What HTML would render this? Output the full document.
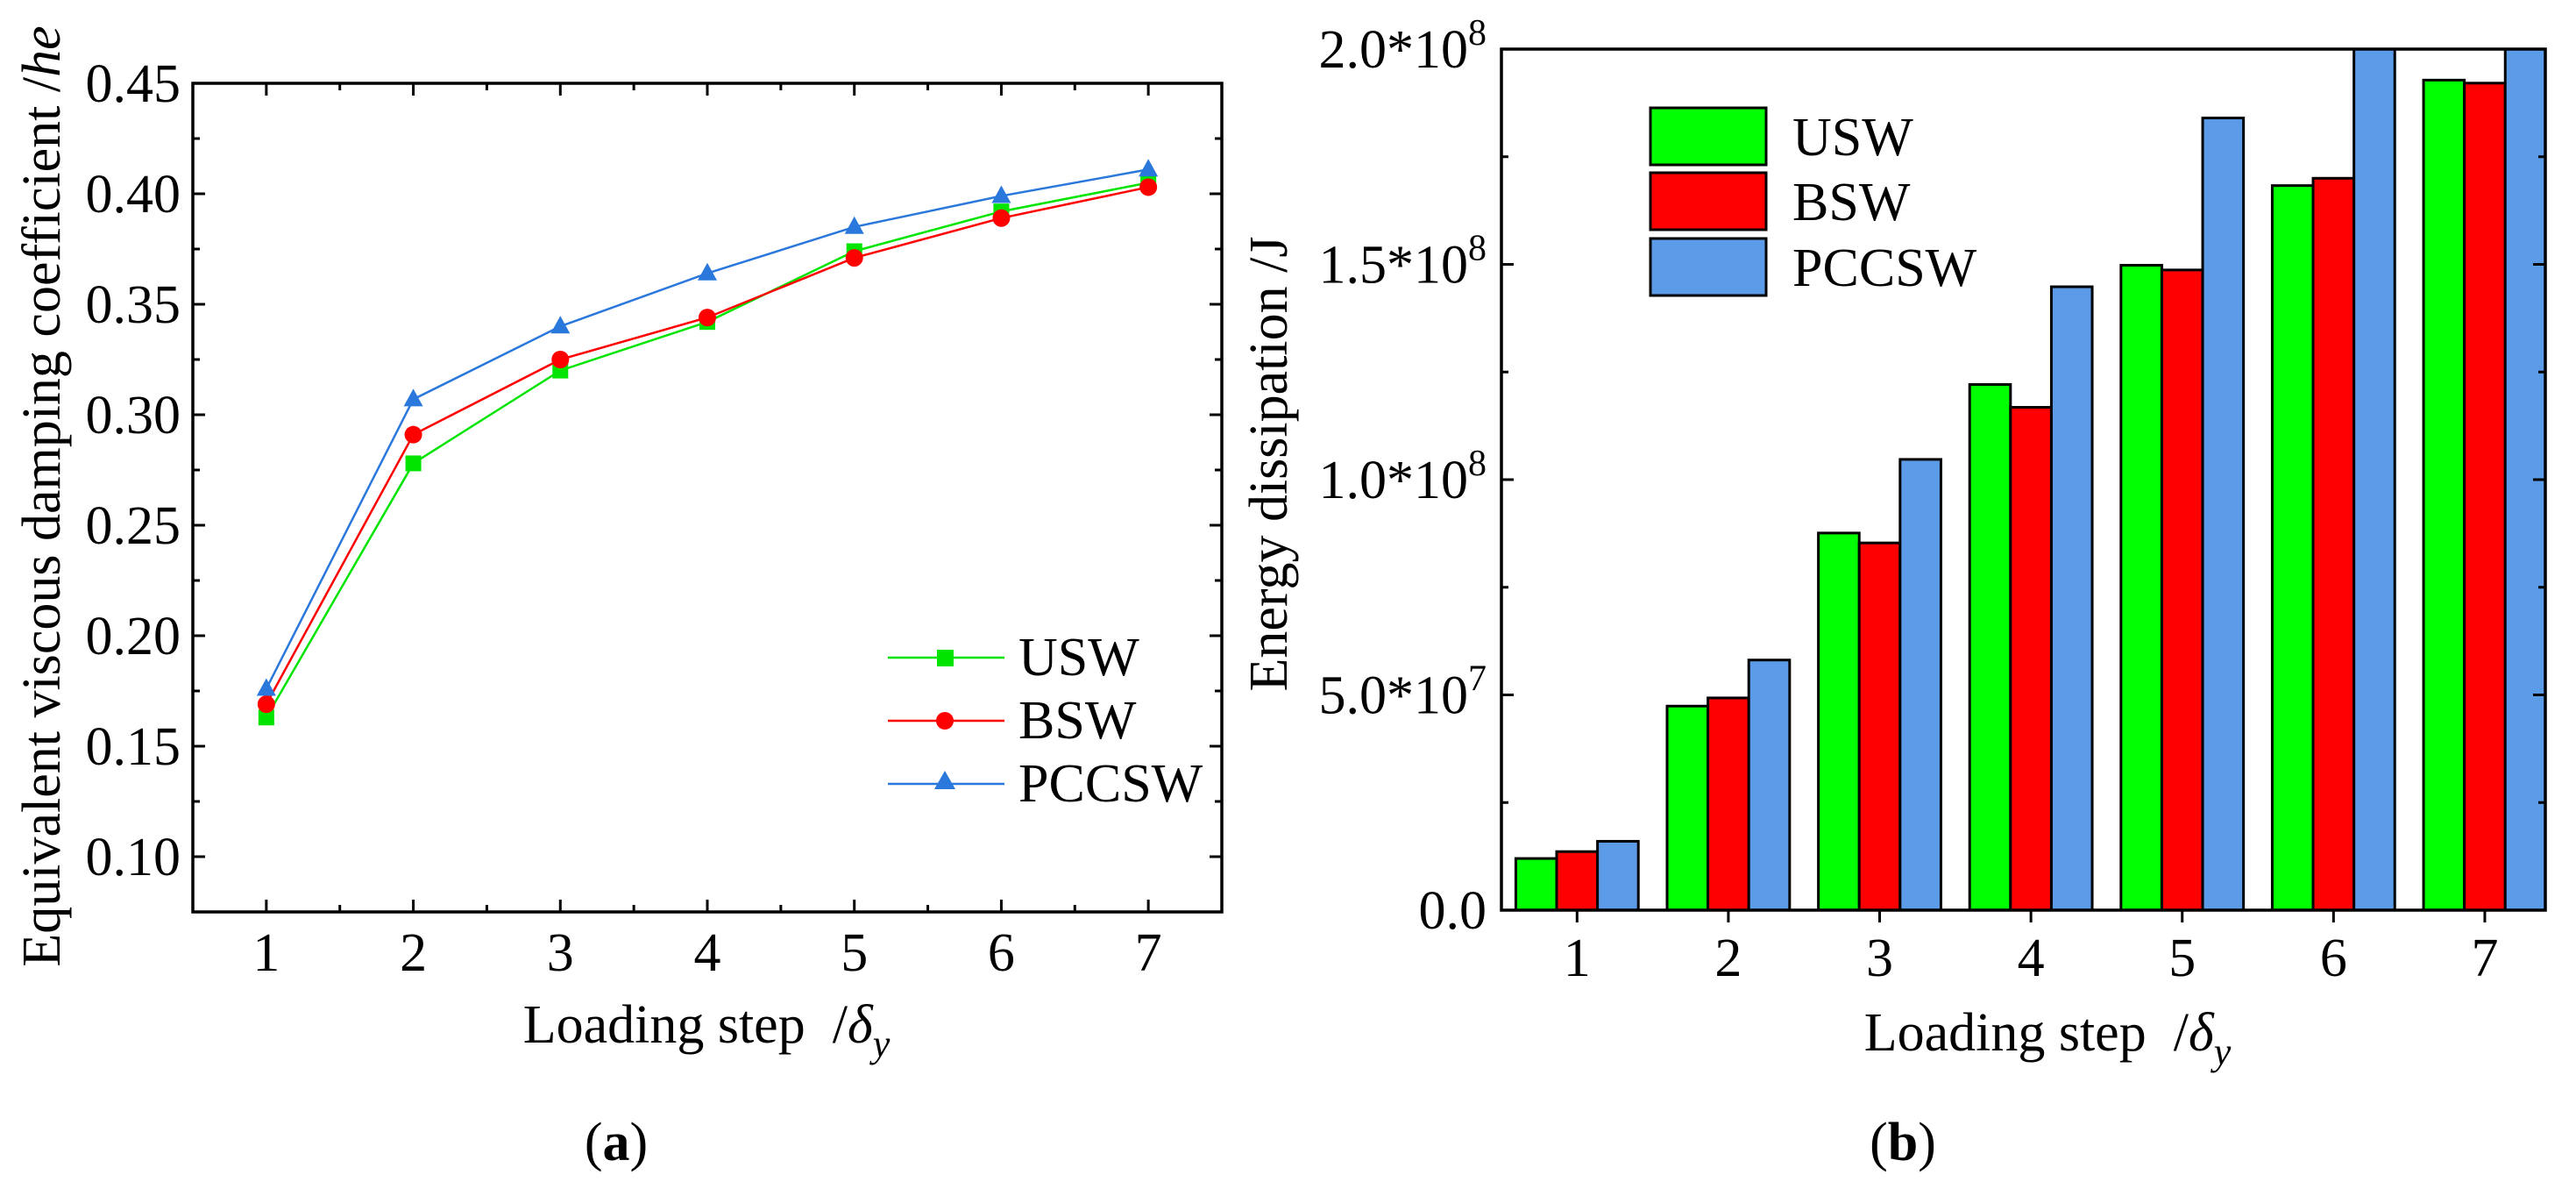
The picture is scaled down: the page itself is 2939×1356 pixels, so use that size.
<!DOCTYPE html>
<html><head><meta charset="utf-8"><style>
body{margin:0;background:#fff}
svg{display:block;font-family:"Liberation Serif",serif}
</style></head><body>
<svg id="fig" width="2939" height="1356" viewBox="0 0 2939 1356" xmlns="http://www.w3.org/2000/svg">
<g id="pa"></g>
<g id="pb"></g>
</svg>
<script>
const steps=[1,2,3,4,5,6,7];
const seriesNames=["USW","BSW","PCCSW"];
const dampUSW=[0.163,0.278,0.320,0.342,0.374,0.392,0.405];
const dampBSW=[0.169,0.291,0.325,0.344,0.371,0.389,0.403];
const dampPCCSW=[0.176,0.307,0.340,0.364,0.385,0.399,0.411];
const dampTicks=["0.10","0.15","0.20","0.25","0.30","0.35","0.40","0.45"];
const energyUSW=[0.12e8,0.474e8,0.876e8,1.221e8,1.498e8,1.683e8,1.928e8];
const energyBSW=[0.136e8,0.493e8,0.853e8,1.168e8,1.487e8,1.700e8,1.921e8];
const energyPCCSW=[0.16e8,0.581e8,1.047e8,1.448e8,1.840e8,2.08e8,2.12e8];
const energyTicks=["0.0","5.0*10^7","1.0*10^8","1.5*10^8","2.0*10^8"];

const NS="http://www.w3.org/2000/svg";
function mk(tag,parent,attrs){const e=document.createElementNS(NS,tag);for(const k in attrs)e.setAttribute(k,attrs[k]);parent.appendChild(e);return e;}
const FS=62;

// ---------- Panel A ----------
const pa=document.getElementById('pa');
const A={l:220,r:1394,t:95,b:1040,x0:0.5,x1:7.5,y0:0.075,y1:0.45};
const ax=v=>A.l+(v-A.x0)/(A.x1-A.x0)*(A.r-A.l);
const ay=v=>A.b-(v-A.y0)/(A.y1-A.y0)*(A.b-A.t);
const colsA=["#00e400","#ff0000","#2a78dc"];
const dataA=[dampUSW,dampBSW,dampPCCSW];
dataA.forEach((arr,si)=>{
  const g=mk('g',pa,{});
  
  
  const pl=mk('polyline',g,{points:arr.map((v,i)=>ax(steps[i])+','+ay(v)).join(' '),fill:'none',stroke:colsA[si],'stroke-width':2.5});
  
  
  arr.forEach((v,i)=>{
    const x=ax(steps[i]),y=ay(v);let m;
    if(si===0)m=mk('rect',g,{x:x-9,y:y-9,width:18,height:18,fill:colsA[0]});
    else if(si===1)m=mk('circle',g,{cx:x,cy:y,r:10,fill:colsA[1]});
    else m=mk('polygon',g,{points:`${x},${y-12} ${x-11},${y+8} ${x+11},${y+8}`,fill:colsA[2]});
    
    
  });
});
const fa=mk('rect',pa,{x:A.l,y:A.t,width:A.r-A.l,height:A.b-A.t,fill:'none',stroke:'#000','stroke-width':3.5});


for(let k=0;k<=14;k++){
  const v=0.10+k*0.025; if(v>0.4501)break;
  const y=ay(v);const major=k%2===0;const L=major?14:8;
  mk('line',pa,{x1:A.l,x2:A.l+L,y1:y,y2:y,stroke:'#000','stroke-width':3});
  mk('line',pa,{x1:A.r,x2:A.r-L,y1:y,y2:y,stroke:'#000','stroke-width':3});
}
mk('line',pa,{x1:A.l,x2:A.l+8,y1:ay(0.075),y2:ay(0.075),stroke:'#000','stroke-width':3});
dampTicks.forEach(s=>{
  const t=mk('text',pa,{x:A.l-14,y:ay(parseFloat(s))+21,'font-size':FS,'text-anchor':'end'});
  t.textContent=s;
  
  
});
for(let v=1;v<=7.01;v+=0.5){
  const x=ax(v);const major=Number.isInteger(v);const L=major?14:8;
  mk('line',pa,{x1:x,x2:x,y1:A.b,y2:A.b-L,stroke:'#000','stroke-width':3});
  mk('line',pa,{x1:x,x2:x,y1:A.t,y2:A.t+L,stroke:'#000','stroke-width':3});
}
steps.forEach(s=>{
  const t=mk('text',pa,{x:ax(s),y:1107,'font-size':FS,'text-anchor':'middle'});
  t.textContent=s;
  
  
});
let t=mk('text',pa,{x:806,y:1189,'font-size':FS,'text-anchor':'middle'});
t.innerHTML='Loading step &#160;/<tspan font-style="italic">δ</tspan><tspan font-style="italic" font-size="44" dy="16">y</tspan>';


t=mk('text',pa,{x:0,y:0,'font-size':FS,'text-anchor':'middle',transform:'translate(68,566) rotate(-90)'});
t.innerHTML='Equivalent viscous damping coefficient /<tspan font-style="italic">he</tspan>';


t=mk('text',pa,{x:703,y:1323,'font-size':FS,'text-anchor':'middle'});
t.innerHTML='(<tspan font-weight="bold">a</tspan>)';


const legYA=[750,822,894];
seriesNames.forEach((n,si)=>{
  const g=mk('g',pa,{});
  
  
  const y=legYA[si];
  mk('line',g,{x1:1013,x2:1146,y1:y,y2:y,stroke:colsA[si],'stroke-width':2.5});
  const x=1078;
  if(si===0)mk('rect',g,{x:x-9,y:y-9,width:19,height:19,fill:colsA[0]});
  else if(si===1)mk('circle',g,{cx:x,cy:y,r:10,fill:colsA[1]});
  else mk('polygon',g,{points:`${x},${y-15} ${x-12},${y+6} ${x+12},${y+6}`,fill:colsA[2]});
  const tt=mk('text',g,{x:1162,y:y+20,'font-size':FS});tt.textContent=n;
});

// ---------- Panel B ----------
const pb=document.getElementById('pb');
const B={l:1713,r:2904,t:56,b:1038,x0:0.5,x1:7.4,y0:0,y1:2e8};
const bx=v=>B.l+(v-B.x0)/(B.x1-B.x0)*(B.r-B.l);
const by=v=>B.b-(v-B.y0)/(B.y1-B.y0)*(B.b-B.t);
const colsB=["#00ff00","#ff0000","#5b9be8"];
const dataB=[energyUSW,energyBSW,energyPCCSW];
const bw=0.27;
mk('clipPath',pb,{id:'clipB'}).appendChild(document.createElementNS(NS,'rect'));
const cr=document.querySelector('#clipB rect');cr.setAttribute('x',B.l);cr.setAttribute('y',B.t);cr.setAttribute('width',B.r-B.l);cr.setAttribute('height',B.b-B.t);
const bars=mk('g',pb,{'clip-path':'url(#clipB)'});
dataB.forEach((arr,si)=>{
  arr.forEach((v,i)=>{
    const xc=steps[i]+(si-1)*bw;
    const x=bx(xc-bw/2),w=bx(xc+bw/2)-x,y=by(v);
    const r=mk('rect',bars,{x:x,y:y,width:w,height:B.b-y,fill:colsB[si],stroke:'#000','stroke-width':3});
    
    
  });
});
const fb=mk('rect',pb,{x:B.l,y:B.t,width:B.r-B.l,height:B.b-B.t,fill:'none',stroke:'#000','stroke-width':3.5});


for(let k=0;k<=8;k++){
  const y=by(k*0.25e8);const L=k%2===0?14:8;
  mk('line',pb,{x1:B.l,x2:B.l+L,y1:y,y2:y,stroke:'#000','stroke-width':3});
  mk('line',pb,{x1:B.r,x2:B.r-L,y1:y,y2:y,stroke:'#000','stroke-width':3});
}
energyTicks.forEach((s,k)=>{
  const y=by(k*0.5e8)+21;
  const tt=mk('text',pb,{x:1696,y:y,'font-size':FS,'text-anchor':'end'});
  const p=s.split('^');
  if(p.length>1)tt.innerHTML=p[0]+'<tspan font-size="42" dy="-26">'+p[1]+'</tspan>';
  else tt.textContent=s;
  
  
});
steps.forEach(s=>{
  const x=bx(s);
  mk('line',pb,{x1:x,x2:x,y1:B.b,y2:B.b+14,stroke:'#000','stroke-width':3});
  const tt=mk('text',pb,{x:x,y:1113,'font-size':FS,'text-anchor':'middle'});
  tt.textContent=s;
  
  
});
t=mk('text',pb,{x:2336,y:1198,'font-size':FS,'text-anchor':'middle'});
t.innerHTML='Loading step &#160;/<tspan font-style="italic">δ</tspan><tspan font-style="italic" font-size="44" dy="16">y</tspan>';


t=mk('text',pb,{x:0,y:0,'font-size':FS,'text-anchor':'middle',transform:'translate(1468,529) rotate(-90)'});
t.textContent='Energy dissipation /J';


t=mk('text',pb,{x:2171,y:1323,'font-size':FS,'text-anchor':'middle'});
t.innerHTML='(<tspan font-weight="bold">b</tspan>)';


const legYB=[123,197,272];
seriesNames.forEach((n,si)=>{
  const g=mk('g',pb,{});
  
  
  mk('rect',g,{x:1883,y:legYB[si],width:132,height:65,fill:colsB[si],stroke:'#000','stroke-width':3});
  const tt=mk('text',g,{x:2045,y:legYB[si]+54,'font-size':FS});tt.textContent=n;
});
</script>
</body></html>
